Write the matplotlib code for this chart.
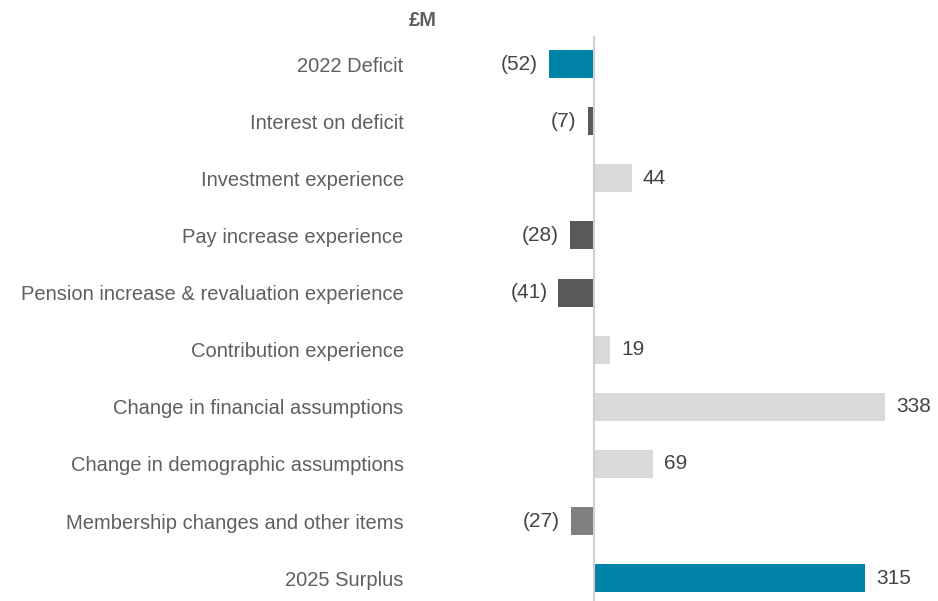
import numpy as np
import matplotlib
matplotlib.use('Agg')
import matplotlib.pyplot as plt

plt.rcParams['font.family'] = ['Liberation Sans', 'DejaVu Sans']

# chart data
categories = ['2022 Deficit', 'Interest on deficit', 'Investment experience',
              'Pay increase experience', 'Pension increase & revaluation experience',
              'Contribution experience', 'Change in financial assumptions',
              'Change in demographic assumptions', 'Membership changes and other items',
              '2025 Surplus']
values = [-52, -7, 44, -28, -41, 19, 338, 69, -27, 315]
colors = ['#0083a9', '#595959', '#d9d9d9', '#595959', '#595959',
          '#d9d9d9', '#d9d9d9', '#d9d9d9', '#808080', '#0083a9']
unit_label = '£M'

fig = plt.figure(figsize=(9.38, 6.01), dpi=100)
ax = fig.add_axes([0.5, 0.0, 0.5, 0.94])

ypos = np.arange(len(categories))
ax.barh(ypos, values, height=0.49, color=colors)
ax.axvline(0, color='#d0d0d0', lw=1.5)

ax.set_xlim(-145, 400)
ax.set_ylim(9.40, -0.49)

for y, v in zip(ypos, values):
    if v < 0:
        ax.annotate('(%d)' % abs(v), (v, y), xytext=(-8, 0), textcoords='offset points',
                    ha='right', va='center', fontsize=15, color='#444444')
    else:
        ax.annotate('%d' % v, (v, y), xytext=(8, 0), textcoords='offset points',
                    ha='left', va='center', fontsize=15, color='#444444')

ax.set_yticks(ypos)
ax.set_yticklabels(categories, fontsize=14.5, color='#5f5f5f')
ax.tick_params(axis='y', length=0, pad=47)
ax.set_xticks([])
for s in ax.spines.values():
    s.set_visible(False)

fig.text(423 / 938, 1 - 20 / 601, unit_label, ha='center', va='center',
         fontsize=14.5, fontweight='bold', color='#5f5f5f')

fig.savefig('out.png', dpi=100)
